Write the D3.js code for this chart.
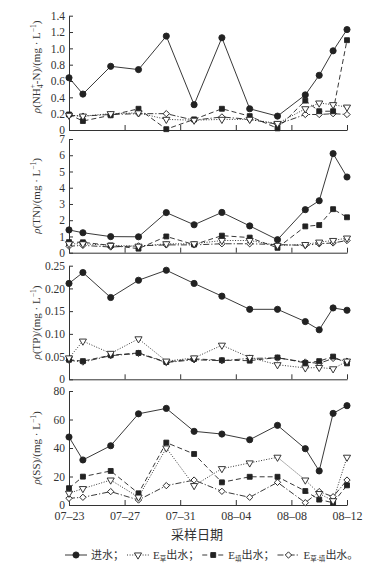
<!DOCTYPE html>
<html>
<head>
<meta charset="utf-8">
<script src="https://cdn.jsdelivr.net/npm/d3@7"></script>
<style>
  body { margin: 0; background: #fff; }
  text { font-family: "Liberation Serif", "Times New Roman", "Noto Sans CJK SC", serif; fill: #333; }
</style>
</head>
<body>
<div id="chart"></div>
<script>
// sampling dates
const dates = ["07-23", "07-24", "07-26", "07-28", "07-30", "08-01", "08-03", "08-05", "08-07", "08-09", "08-10", "08-11", "08-12"];
const tickDates = ["07-23", "07-27", "07-31", "08-04", "08-08", "08-12"];

// NH4+-N
const nh4In       = [0.64, 0.44, 0.78, 0.74, 1.15, 0.31, 1.13, 0.26, 0.17, 0.43, 0.67, 0.97, 1.23];
const nh4Cao      = [0.18, 0.17, 0.20, 0.21, 0.13, 0.12, 0.13, 0.13, 0.08, 0.26, 0.33, 0.31, 0.28];
const nh4Tian     = [0.19, 0.11, 0.18, 0.26, 0.01, 0.13, 0.26, 0.17, 0.02, 0.36, 0.23, 0.23, 1.10];
const nh4CaoTian  = [0.18, 0.17, 0.19, 0.20, 0.20, 0.12, 0.16, 0.13, 0.07, 0.19, 0.19, 0.20, 0.19];

// TN
const tnIn        = [1.40, 1.23, 0.99, 0.98, 2.47, 1.72, 2.48, 1.65, 0.80, 2.65, 3.20, 6.10, 4.66];
const tnCao       = [0.55, 0.55, 0.45, 0.40, 0.55, 0.55, 0.75, 0.75, 0.45, 0.50, 0.65, 0.75, 0.90];
const tnTian      = [0.65, 0.64, 0.45, 0.25, 1.00, 0.50, 1.05, 0.93, 0.30, 1.62, 1.70, 2.68, 2.18];
const tnCaoTian   = [0.40, 0.45, 0.35, 0.42, 0.48, 0.48, 0.55, 0.55, 0.50, 0.45, 0.55, 0.60, 0.75];

// TP
const tpIn        = [0.211, 0.235, 0.180, 0.218, 0.240, 0.211, 0.183, 0.154, 0.154, 0.127, 0.109, 0.157, 0.152];
const tpCao       = [0.047, 0.084, 0.057, 0.089, 0.040, 0.047, 0.075, 0.048, 0.032, 0.025, 0.026, 0.023, 0.040];
const tpTian      = [0.043, 0.040, 0.053, 0.058, 0.038, 0.045, 0.042, 0.041, 0.048, 0.036, 0.040, 0.050, 0.035];
const tpCaoTian   = [0.042, 0.038, 0.052, 0.057, 0.037, 0.043, 0.041, 0.046, 0.047, 0.038, 0.035, 0.046, 0.040];

// SS
const ssIn        = [47.7, 31.6, 41.6, 64.0, 67.8, 51.7, 49.8, 45.8, 55.9, 39.5, 23.9, 64.3, 69.7];
const ssCao       = [8.2, 11.5, 17.5, 5.5, 40.0, 13.6, 25.5, 29.5, 33.5, 17.5, 8.0, 3.0, 33.5];
const ssTian      = [11.8, 19.9, 23.9, 8.2, 43.8, 35.8, 15.9, 19.8, 19.8, 9.8, 3.8, 1.6, 13.8];
const ssCaoTian   = [4.7, 5.4, 9.4, 3.5, 13.6, 17.5, 9.6, 5.4, 15.9, 1.6, 9.4, 5.8, 17.5];

const nh4Ticks = [0, 0.2, 0.4, 0.6, 0.8, 1.0, 1.2, 1.4];
const tnTicks  = [0, 1, 2, 3, 4, 5, 6, 7];
const tpTicks  = [0, 0.05, 0.10, 0.15, 0.20, 0.25];
const ssTicks  = [0, 20, 40, 60, 80];

const W = 386, H = 563;
const parse = d3.utcParse("%Y-%m-%d");
const toDate = s => parse("2015-" + s);

const svg = d3.select("#chart").append("svg")
    .attr("width", W)
    .attr("height", H);

const x = d3.scaleUtc()
    .domain([toDate("07-23"), toDate("08-12")])
    .range([69, 347]);

const series = [
    { key: "in",  dash: null,        symbol: "circle",   fill: "#222" },
    { key: "cao", dash: "1,1.6",     symbol: "triangle", fill: "#fff" },
    { key: "tian", dash: "5,3",      symbol: "square",   fill: "#222" },
    { key: "ct",  dash: "6,2,1.2,2", symbol: "diamond",  fill: "#fff" }
];

const panels = [
    { top: 15.7, bottom: 130, ticks: nh4Ticks, fmt: d => d === 0 ? "0" : d3.format(".1f")(d),
      label: "nh4", data: { in: nh4In, cao: nh4Cao, tian: nh4Tian, ct: nh4CaoTian } },
    { top: 139, bottom: 252.7, ticks: tnTicks, fmt: d => String(d),
      label: "TN", data: { in: tnIn, cao: tnCao, tian: tnTian, ct: tnCaoTian } },
    { top: 265.7, bottom: 379.3, ticks: tpTicks, fmt: d => d === 0 ? "0" : d3.format(".2f")(d),
      label: "TP", data: { in: tpIn, cao: tpCao, tian: tpTian, ct: tpCaoTian } },
    { top: 391, bottom: 505, ticks: ssTicks, fmt: d => String(d),
      label: "SS", data: { in: ssIn, cao: ssCao, tian: ssTian, ct: ssCaoTian } }
];

function symbolPath(type) {
    if (type === "circle") return d3.symbol(d3.symbolCircle, 30)();
    if (type === "square") return d3.symbol(d3.symbolSquare, 24)();
    if (type === "triangle") return d3.symbol(d3.symbolTriangle, 22)();
    return d3.symbol(d3.symbolSquare, 20)();
}
function symbolRotate(type) {
    if (type === "triangle") return " rotate(180)";
    if (type === "diamond") return " rotate(45)";
    return "";
}

function yLabel(g, cx, cy, kind) {
    const t = g.append("text")
        .attr("transform", `translate(${cx},${cy}) rotate(-90)`)
        .attr("text-anchor", "middle")
        .attr("dy", "0.35em")
        .style("font-size", "11px");
    t.append("tspan").style("font-style", "italic").text("ρ");
    if (kind === "nh4") {
        t.append("tspan").text("(NH");
        t.append("tspan").attr("dy", 3).style("font-size", "7.5px").text("4");
        t.append("tspan").attr("dy", -7.5).attr("dx", -3.8).style("font-size", "7.5px").text("+");
        t.append("tspan").attr("dy", 4.5).text("-N)/(mg · L");
    } else {
        t.append("tspan").text(`(${kind})/(mg · L`);
    }
    t.append("tspan").attr("dy", -4).style("font-size", "7.5px").text("−1");
    t.append("tspan").attr("dy", 4).text(")");
}

panels.forEach((p, pi) => {
    const y = d3.scaleLinear()
        .domain([0, p.ticks[p.ticks.length - 1]])
        .range([p.bottom, p.top]);
    const g = svg.append("g");
    const last = pi === panels.length - 1;

    const xAxis = g.append("g")
        .attr("transform", `translate(0,${p.bottom})`)
        .call(d3.axisBottom(x)
            .tickValues(tickDates.map(toDate))
            .tickSizeInner(-5)
            .tickSizeOuter(0)
            .tickPadding(6)
            .tickFormat(last ? d3.utcFormat("%m–%d") : () => ""));
    xAxis.selectAll("text").style("font-size", "12px").attr("fill", "#333");

    const yAxis = g.append("g")
        .attr("transform", `translate(69,0)`)
        .call(d3.axisLeft(y)
            .tickValues(p.ticks)
            .tickSizeInner(-4)
            .tickSizeOuter(0)
            .tickPadding(4)
            .tickFormat(p.fmt));
    yAxis.selectAll("text").style("font-size", "11.5px").attr("fill", "#333");
    g.selectAll(".domain, .tick line").attr("stroke", "#333").attr("stroke-width", 1);

    yLabel(g, 36, (p.top + p.bottom) / 2 - (pi === 0 ? 6 : 0), p.label);

    const line = d3.line()
        .x((d, i) => x(toDate(dates[i])))
        .y(d => y(d));

    // lines first, back to front so the inflow line sits on top
    [...series].reverse().forEach(s => {
        g.append("path")
            .datum(p.data[s.key])
            .attr("fill", "none")
            .attr("stroke", "#222")
            .attr("stroke-width", 0.9)
            .attr("stroke-dasharray", s.dash)
            .attr("d", line);
    });
    [...series].reverse().forEach(s => {
        g.selectAll(null)
            .data(p.data[s.key])
            .enter().append("path")
            .attr("d", symbolPath(s.symbol))
            .attr("transform", (d, i) => `translate(${x(toDate(dates[i]))},${y(d)})${symbolRotate(s.symbol)}`)
            .attr("fill", s.fill)
            .attr("stroke", "#222")
            .attr("stroke-width", 0.9);
    });
});

// x axis title
svg.append("text")
    .attr("x", 197)
    .attr("y", 534)
    .attr("dy", "0.35em")
    .attr("text-anchor", "middle")
    .style("font-size", "13px")
    .text("采样日期");

// legend
const legendItems = [
    { s: series[0], name: "进水；", sub: null },
    { s: series[1], name: "出水；", sub: "草" },
    { s: series[2], name: "出水；", sub: "填" },
    { s: series[3], name: "出水。", sub: "草-填" }
];
const legend = svg.append("g").attr("transform", "translate(0,555)");
let cx = 65;
legendItems.forEach(it => {
    const sw = 22;
    legend.append("line")
        .attr("x1", cx).attr("x2", cx + sw)
        .attr("y1", 0).attr("y2", 0)
        .attr("stroke", "#222")
        .attr("stroke-width", 0.9)
        .attr("stroke-dasharray", it.s.dash);
    legend.append("path")
        .attr("d", symbolPath(it.s.symbol))
        .attr("transform", `translate(${cx + sw / 2},0)${symbolRotate(it.s.symbol)}`)
        .attr("fill", it.s.fill)
        .attr("stroke", "#222")
        .attr("stroke-width", 0.9);
    cx += sw + 4;
    const t = legend.append("text")
        .attr("x", cx)
        .attr("dy", "0.35em")
        .style("font-size", "11px");
    if (it.sub) {
        t.append("tspan").text("E");
        t.append("tspan").attr("dy", 2).style("font-size", "6.5px").text(it.sub);
        t.append("tspan").attr("dy", -2).text(it.name);
    } else {
        t.text(it.name);
    }
    cx += t.node().getComputedTextLength() + 3;
});
</script>
</body>
</html>
